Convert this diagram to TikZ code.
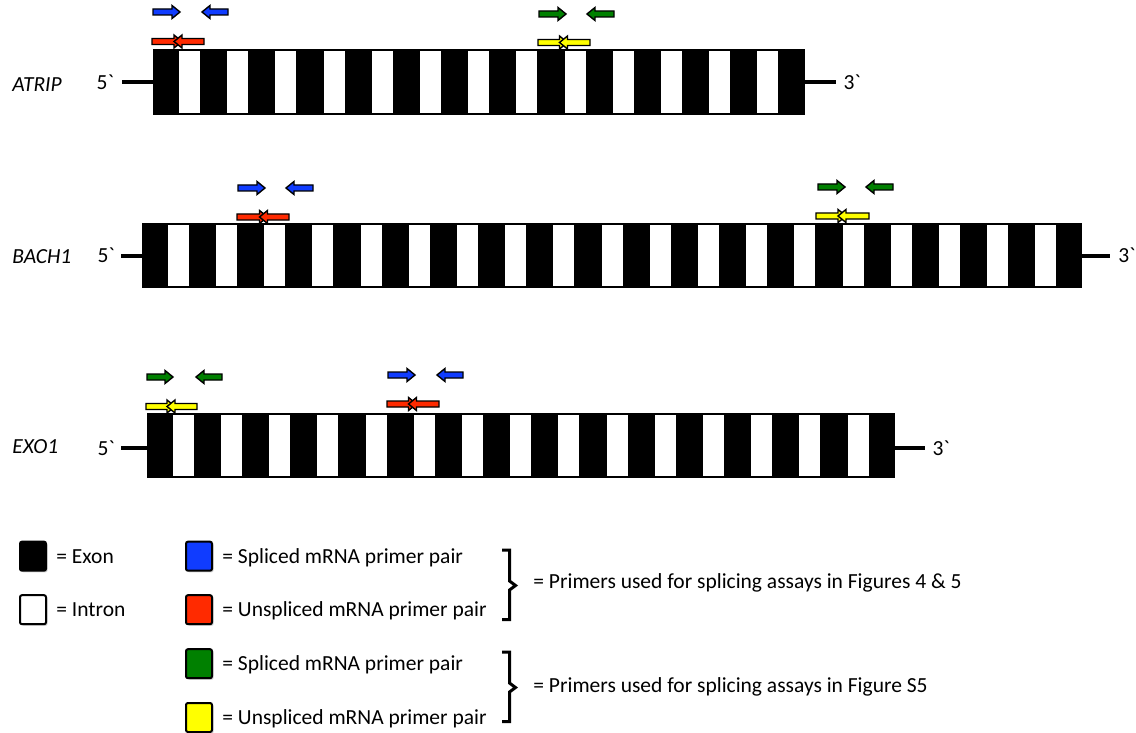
\documentclass[tikz,border=0pt]{standalone}
\usepackage{fontspec}
\setmainfont{Carlito}
\newfontfamily\labelfont{Carlito}[Ligatures=TeXOff]
\usetikzlibrary{positioning, shadows}
\definecolor{primerblue}{RGB}{16,60,255}
\definecolor{primerred}{RGB}{255,42,0}
\definecolor{primergreen}{RGB}{0,128,0}
\definecolor{primeryellow}{RGB}{255,255,0}

% primer arrows: colour, tail x, tip x, y
\newcommand{\fwdprimer}[4]{%
  \filldraw[primer, fill=#1] (#2,#4-3) -- (#3-8,#4-3) -- (#3-8,#4-6.5) -- (#3,#4)
    -- (#3-8,#4+6.5) -- (#3-8,#4+3) -- (#2,#4+3) -- cycle;}
\newcommand{\revprimer}[4]{%
  \filldraw[primer, fill=#1] (#2,#4-3) -- (#3+8,#4-3) -- (#3+8,#4-6.5) -- (#3,#4)
    -- (#3+8,#4+6.5) -- (#3+8,#4+3) -- (#2,#4+3) -- cycle;}
% crossed pair: colour, left x, crossing x, right x, y
\newcommand{\crosspair}[5]{%
  \fwdprimer{#1}{#2}{#3+4}{#5}\revprimer{#1}{#4}{#3-4}{#5}}

\begin{document}
\begin{tikzpicture}[
    x=0.5pt, y=-0.5pt,
    strand/.style={line width=2pt},
    endlabel/.style={font=\labelfont\fontsize{10.75}{13}\selectfont, inner sep=0pt},
    genename/.style={font=\itshape\fontsize{10.75}{13}\selectfont, inner sep=0pt, anchor=base west},
    primer/.style={draw=black, line width=0.7pt, line join=miter},
    keybox/.style={draw, line width=1pt, rounded corners=1pt, minimum width=13pt, minimum height=14.5pt,
        inner sep=0pt, drop shadow={shadow xshift=0.8pt, shadow yshift=-0.8pt, opacity=0.35}},
    keytext/.style={font=\fontsize{10.75}{13}\selectfont, inner sep=0pt, text height=9pt, text depth=2pt},
    bracket/.style={line width=1.5pt}
]
    \useasboundingbox (0,0) rectangle (1136,733);

    % ATRIP
    \node[genename] (atripname) at (12,92) {ATRIP};
    \fill (153.3,49.3) rectangle (804.5,115);
    \foreach \k in {0,...,12}
        \fill[white] ({179+48.2*\k},51.2) rectangle ++(21,62);
    \coordinate (atripw) at (153.3,82.5);
    \coordinate (atripe) at (804.5,82.5);
    \draw[strand] (atripw) -- ++(-31.5,0) node[endlabel, anchor=east, xshift=-3pt] (atrip5) {5`};
    \draw[strand] (atripe) -- ++(31,0) node[endlabel, anchor=west, xshift=3pt] (atrip3) {3`};
    \fwdprimer{primerblue}{153}{180}{12}
    \revprimer{primerblue}{228}{202}{12}
    \crosspair{primerred}{152}{178}{204}{41.5}
    \fwdprimer{primergreen}{539}{566}{14}
    \revprimer{primergreen}{614}{587}{14}
    \crosspair{primeryellow}{538}{563.5}{590}{42.5}

    % BACH1
    \node[genename] (bachname) at (12,263.3) {BACH1};
    \fill (141.7,223.3) rectangle (1082.3,288.3);
    \foreach \k in {0,...,18}
        \fill[white] ({167.7+48.2*\k},225.2) rectangle ++(21,61.2);
    \coordinate (bachw) at (141.7,255.5);
    \coordinate (bache) at (1082.3,255.5);
    \draw[strand] (bachw) -- ++(-21,0) node[endlabel, anchor=east, xshift=-2pt] (bach5) {5`};
    \draw[strand] (bache) -- ++(28,0) node[endlabel, anchor=west, xshift=3pt] (bach3) {3`};
    \fwdprimer{primerblue}{238}{265}{188}
    \revprimer{primerblue}{313}{286}{188}
    \crosspair{primerred}{237}{263.5}{289}{217}
    \fwdprimer{primergreen}{818}{845}{187}
    \revprimer{primergreen}{893}{866}{187}
    \crosspair{primeryellow}{816}{842}{869}{216}

    % EXO1
    \node[genename] (exoname) at (12,453.3) {EXO1};
    \fill (146.7,413.3) rectangle (894.5,478.3);
    \foreach \k in {0,...,14}
        \fill[white] ({172.7+48.2*\k},415.2) rectangle ++(21,61.2);
    \coordinate (exow) at (146.7,448.3);
    \coordinate (exoe) at (894.5,448.3);
    \draw[strand] (exow) -- ++(-26,0) node[endlabel, anchor=east, xshift=-2pt] (exo5) {5`};
    \draw[strand] (exoe) -- ++(30,0) node[endlabel, anchor=west, xshift=3pt] (exo3) {3`};
    \fwdprimer{primergreen}{147}{173}{377}
    \revprimer{primergreen}{222}{196}{377}
    \crosspair{primeryellow}{146}{171}{197}{406.5}
    \fwdprimer{primerblue}{388}{415}{375}
    \revprimer{primerblue}{463}{437}{375}
    \crosspair{primerred}{387}{412.5}{439}{404}

    % Legend
    \node[keybox, fill=black] (exonkey) at (33,556.2) {};
    \node[keybox, fill=white] (intronkey) at (33,609.7) {};
    \node[keytext, right=4.5pt of exonkey] (exontext) {= Exon};
    \node[keytext, right=4.5pt of intronkey] (introntext) {= Intron};

    \node[keybox, fill=primerblue] (bluekey) at (199,556.2) {};
    \node[keybox, fill=primerred] (redkey) at (199,609.7) {};
    \node[keybox, fill=primergreen] (greenkey) at (199,663.7) {};
    \node[keybox, fill=primeryellow] (yellowkey) at (199,717.5) {};
    \node[keytext, right=4.5pt of bluekey] (bluetext) {= Spliced mRNA primer pair};
    \node[keytext, right=4.5pt of redkey] (redtext) {= Unspliced mRNA primer pair};
    \node[keytext, right=4.5pt of greenkey] (greentext) {= Spliced mRNA primer pair};
    \node[keytext, right=4.5pt of yellowkey] (yellowtext) {= Unspliced mRNA primer pair};

    % Brackets
    \draw[bracket] (502,550) -- (509.5,550) -- (509.5,581) -- (515.5,585.5) -- (509.5,590) -- (509.5,619.5) -- (502,619.5);
    \draw[bracket] (502,652) -- (509.5,652) -- (509.5,683) -- (515.5,687.5) -- (509.5,692) -- (509.5,721.5) -- (502,721.5);
    \node[keytext, anchor=west] (figtext) at (533,581.5) {= Primers used for splicing assays in Figures 4 \& 5};
    \node[keytext, anchor=west] (s5text) at (533,685) {= Primers used for splicing assays in Figure S5};
\end{tikzpicture}
\end{document}
